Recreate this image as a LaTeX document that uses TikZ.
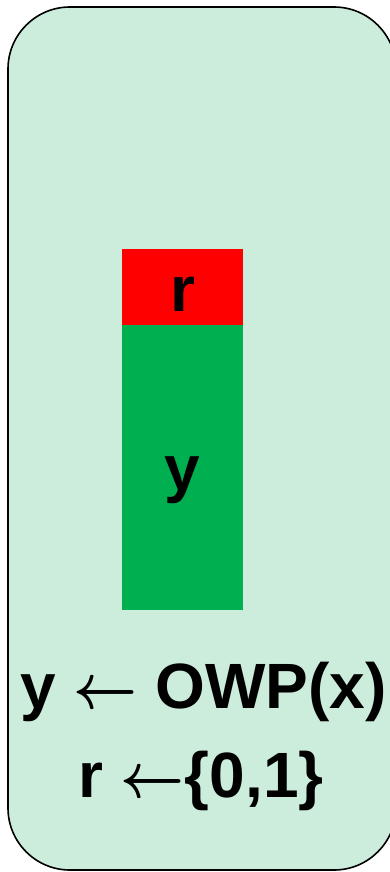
\RequirePackage{fix-cm}
\documentclass[tikz,border=0pt]{standalone}
\usepackage{amsmath}
\usepackage{graphicx}
\usepackage{fontspec}
\setmainfont{Liberation Sans}
\definecolor{mintbg}{RGB}{204,236,220}
\definecolor{keyred}{RGB}{255,0,0}
\definecolor{keygreen}{RGB}{0,176,80}
\newcommand{\getsarrow}{\scalebox{0.87}[1]{$\boldsymbol{\leftarrow}$}}
\begin{document}
\begin{tikzpicture}[
    x=1pt, y=-1pt,
    part/.style={
        inner sep=0pt,
        minimum width=121pt
    },
    lbl/.style={
        anchor=base,
        inner sep=0pt,
        font=\fontsize{64}{64}\selectfont\bfseries
    }
]
    \useasboundingbox (0,0) rectangle (390,872);
    \clip (0,0) rectangle (390,872);

    \draw[line width=1.6pt, fill=mintbg, rounded corners=62pt]
        (8,7) rectangle (396,870);

    \node[part, fill=keyred, minimum height=76pt] (rpart) at (182.5,287) {};
    \node[part, fill=keygreen, minimum height=285pt] (ypart) at (182.5,467.5) {};

    \node[lbl] (rlbl) at (182.5,311) {r};
    \node[lbl] (ylbl) at (182.5,490) {y};

    \node[lbl] (owp) at (203.5,708) {y \getsarrow{} OWP(x)};
    \node[lbl] (rand) at (201,797) {r \getsarrow\{0,1\}};
\end{tikzpicture}
\end{document}
